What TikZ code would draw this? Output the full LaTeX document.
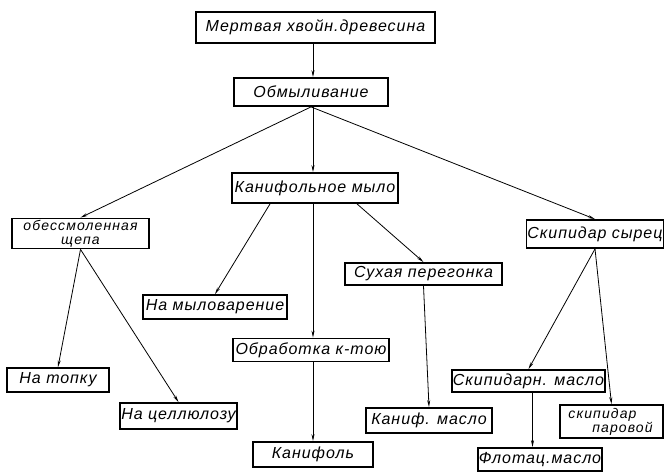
\documentclass[tikz,border=0pt]{standalone}
\usepackage{fontspec}
\setmainfont{Liberation Sans}
\usepackage{tikz}
\usetikzlibrary{arrows.meta,positioning,calc}
\tikzset{box/.style={draw=black,line width=1.8pt,fill=white,inner sep=1pt,align=center,font=\itshape\addfontfeature{LetterSpace=6}\fontsize{16}{14}\selectfont},two/.style={inner sep=0pt,font=\itshape\addfontfeature{LetterSpace=8}\fontsize{14}{14}\selectfont},link/.style={draw=black,line width=.8pt},every picture/.style={>={Stealth[length=7pt,width=3pt]}}}

\begin{document}
\begin{tikzpicture}[x=1pt,y=-1pt]
\useasboundingbox (0,0) rectangle (666,472);
\node[box,minimum width=239pt,minimum height=31pt] (wood) at (315.5,27.5) {Мертвая хвойн.древесина};
\node[box,minimum width=154pt,minimum height=28pt] (saponif) at (311,92) {Обмыливание};
\node[box,minimum width=166pt,minimum height=30pt] (soap) at (315,188) {Канифольное мыло};
\node[box,two,minimum width=137pt,minimum height=30pt] (chips) at (80.5,233.5) {обессмоленная\\щепа};
\node[box,minimum width=136pt,minimum height=28pt] (crude) at (595,234) {Скипидар сырец};
\node[box,minimum width=144pt,minimum height=24pt] (soapmk) at (215,307) {На мыловарение};
\node[box,minimum width=157pt,minimum height=22pt] (drydist) at (423.5,274) {Сухая перегонка};
\node[box,minimum width=156pt,minimum height=23pt] (acid) at (311,350) {Обработка к-тою};
\node[box,minimum width=120pt,minimum height=25pt] (rosin) at (313,454.5) {Канифоль};
\node[box,minimum width=102pt,minimum height=24pt] (fuel) at (58,380) {На топку};
\node[box,minimum width=115pt,minimum height=26pt] (pulp) at (178.5,416) {На целлюлозу};
\node[box,minimum width=126pt,minimum height=25pt] (rosinoil) at (429,420.5) {Каниф. масло};
\node[box,minimum width=143pt,minimum height=22pt] (turpoil) at (528.5,381) {Скипидарн. масло};
\node[box,two,minimum width=103pt,minimum height=33pt] (steam) at (611.5,421.5) {скипидар\hspace*{18pt}\\\hspace*{22pt}паровой};
\node[box,minimum width=114pt,minimum height=23pt] (flot) at (540,459.5) {Флотац.масло};
% links
\foreach \a/\b in {saponif.south/chips.north,saponif.south/crude.north,chips.south/fuel.north,chips.south/pulp.north,drydist.south/rosinoil.north,crude.south/turpoil.north,crude.south/steam.north}
  \draw[link,->] (\a) -- (\b);
\draw[link,->] ([xshift=-2.5pt]wood.south) -- ([xshift=-2.5pt]wood.south |- saponif.north);
\draw[link,->] ([xshift=-2pt]soap.south |- saponif.south) -- ([xshift=-2pt]soap.north);
\draw[link,->] ([xshift=-2pt]soap.south) -- ([xshift=-2pt]soap.south |- acid.north);
\draw[link,->] ([xshift=-2pt]soap.south |- acid.south) -- ([xshift=-2pt]soap.south |- rosin.north);
\draw[link,->] ([xshift=-45pt]soap.south) -- (soapmk.north);
\draw[link,->] ([xshift=42pt]soap.south) -- (drydist.north);
\draw[link,->] ([xshift=4pt]turpoil.south) -- ([xshift=4pt]turpoil.south |- flot.north);
\end{tikzpicture}
\end{document}
